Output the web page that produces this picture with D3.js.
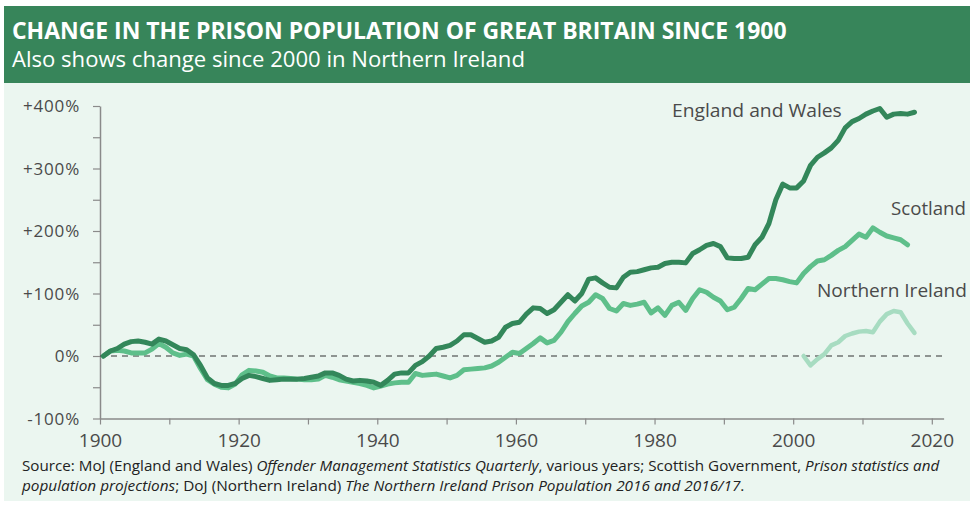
<!DOCTYPE html>
<html><head><meta charset="utf-8">
<script src="https://cdn.jsdelivr.net/npm/d3@7"></script>
<style>
html,body{margin:0;padding:0;background:#fff;}
svg{display:block;font-family:"Open Sans",sans-serif;}
</style></head>
<body><svg id="c" width="974" height="506"></svg>
<script>
// ---- data ----
const ewYears = d3.range(1900, 2018);
const ewValues = [0,8,12,19,23,24,22,19,27,24,18,12,10,2,-15,-35,-44,-47,-47,-44,
  -36,-31,-33,-36,-39,-38,-37,-37,-37,-36,-34,-32,-27,-27,-31,-37,-40,-39,-40,-42,
  -47,-39,-29,-27,-27,-15,-9,0,12,14,17,24,34,34,28,22,24,30,46,52,
  54,67,77,76,68,74,86,98,88,100,123,125,117,110,109,126,134,135,138,141,
  142,148,150,150,149,164,170,177,180,175,157,156,156,158,178,190,212,250,275,269,
  269,280,305,318,325,333,345,365,375,380,387,392,396,382,387,388,387,390];
const scYears = d3.range(1900, 2017);
const scValues = [0,8,9,8,5,5,5,11,20,14,5,1,3,0,-20,-38,-45,-50,-51,-45,
  -30,-23,-24,-26,-32,-35,-35,-36,-37,-38,-38,-37,-31,-34,-38,-40,-42,-44,-47,-51,
  -48,-45,-43,-42,-42,-28,-31,-30,-29,-32,-35,-31,-22,-21,-20,-19,-16,-10,-2,6,
  4,12,20,29,21,25,38,55,68,80,86,98,92,76,72,84,81,83,86,69,
  77,65,81,86,73,92,106,102,94,88,74,78,92,108,106,115,124,124,122,119,
  117,132,143,152,154,161,169,175,185,195,190,205,198,192,189,186,178];
const niYears = d3.range(2001, 2018);
const niValues = [0,-15,-5,3,17,22,32,36,39,40,38,55,67,72,70,52,37];
const xTickValues = d3.range(1900, 2021, 10);
const xLabelValues = [1900,1920,1940,1960,1980,2000,2020];
const yTickValues = d3.range(-100, 401, 50);
const yLabelValues = [-100,0,100,200,300,400];
const seriesNames = ["England and Wales","Scotland","Northern Ireland"];
const titleText = "CHANGE IN THE PRISON POPULATION OF GREAT BRITAIN SINCE 1900";
const subtitleText = "Also shows change since 2000 in Northern Ireland";

// ---- styles ----
const C = {header:"#37855a", bg:"#ebf6f0", ew:"#33875a", sc:"#5ebf8a", ni:"#a7dcc1", axis:"#8a8a8a", text:"#4a4a4a"};

const svg = d3.select("#c");
svg.append("rect").attr("x",4).attr("y",6).attr("width",966).attr("height",495).attr("fill",C.bg);
svg.append("rect").attr("x",4).attr("y",6).attr("width",966).attr("height",77).attr("fill",C.header);

function fitText(sel, x, y, width){
  const w = sel.node().getComputedTextLength();
  sel.attr("x",0).attr("y",0).attr("transform",`translate(${x},${y}) scale(${width/w},1)`);
}
const t1 = svg.append("text").attr("fill","#fff").attr("font-weight",700).attr("font-size",23.5).text(titleText);
fitText(t1, 12, 39, 775);
const t2 = svg.append("text").attr("fill","#fff").attr("font-weight",400).attr("font-size",21).text(subtitleText);
fitText(t2, 12, 67, 513);

// ---- scales ----
const x = d3.scaleLinear().domain([1900, 2021.7]).range([100, 943.6]);
const y = d3.scaleLinear().domain([-100, 400]).range([418.5, 106]);

// axes
const xAxis = d3.axisBottom(x).tickValues(xTickValues).tickSize(6).tickSizeOuter(0)
  .tickFormat(d => xLabelValues.includes(d) ? d : "");
const gx = svg.append("g").attr("transform",`translate(0,${y(-100)})`).call(xAxis);
gx.select(".domain").attr("stroke",C.axis).attr("stroke-width",1.5);
gx.selectAll(".tick line").attr("stroke",C.axis).attr("stroke-width",1.2);
gx.selectAll(".tick text").attr("fill",C.text).attr("font-size",19).attr("font-family","Open Sans").attr("dy","1.05em");

const yAxis = d3.axisLeft(y).tickValues(yTickValues).tickSize(7).tickSizeOuter(0)
  .tickFormat(d => yLabelValues.includes(d) ? (d>0?"+":"")+d+"%" : "");
const gy = svg.append("g").attr("transform",`translate(${x(1900)},0)`).call(yAxis);
gy.select(".domain").attr("stroke",C.axis).attr("stroke-width",1.5);
gy.selectAll(".tick line").attr("stroke",C.axis).attr("stroke-width",1.2);
gy.selectAll(".tick text").attr("fill",C.text).attr("font-size",17).attr("font-family","Open Sans")
  .attr("letter-spacing",0.8).attr("x",-20).attr("dy","0.35em");

// zero line
svg.append("line").attr("x1",x(1900)).attr("x2",x(2021.7)).attr("y1",y(0)).attr("y2",y(0))
  .attr("stroke","#333").attr("stroke-width",1.2).attr("stroke-dasharray","6,5");

// lines (plotted at mid-year)
const line = d3.line().x(d => x(d[0] + 0.5)).y(d => y(d[1])).curve(d3.curveLinear);
function draw(years, values, color, w){
  svg.append("path").datum(years.map((yr,i)=>[yr, values[i]]))
    .attr("d", line).attr("fill","none").attr("stroke",color).attr("stroke-width",w)
    .attr("stroke-linejoin","round").attr("stroke-linecap","round");
}
draw(niYears, niValues, C.ni, 4.5);
draw(scYears, scValues, C.sc, 5);
draw(ewYears, ewValues, C.ew, 5);

// series labels
const lab = [[seriesNames[0], 672, 117, 170],[seriesNames[1], 891, 215, 75],[seriesNames[2], 817, 297, 150]];
lab.forEach(l => {
  const t = svg.append("text").attr("fill",C.text).attr("font-size",18.5).text(l[0]);
  fitText(t, l[1], l[2], l[3]);
});

// source
const s1 = svg.append("text").attr("fill","#222").attr("font-size",14.5);
s1.append("tspan").text("Source: MoJ (England and Wales) ");
s1.append("tspan").attr("font-style","italic").text("Offender Management Statistics Quarterly");
s1.append("tspan").text(", various years; Scottish Government, ");
s1.append("tspan").attr("font-style","italic").text("Prison statistics and");
fitText(s1, 22, 471, 918);
const s2 = svg.append("text").attr("fill","#222").attr("font-size",14.5);
s2.append("tspan").attr("font-style","italic").text("population projections");
s2.append("tspan").text("; DoJ (Northern Ireland) ");
s2.append("tspan").attr("font-style","italic").text("The Northern Ireland Prison Population 2016 and 2016/17");
s2.append("tspan").text(".");
fitText(s2, 22, 491, 723);
</script></body></html>
